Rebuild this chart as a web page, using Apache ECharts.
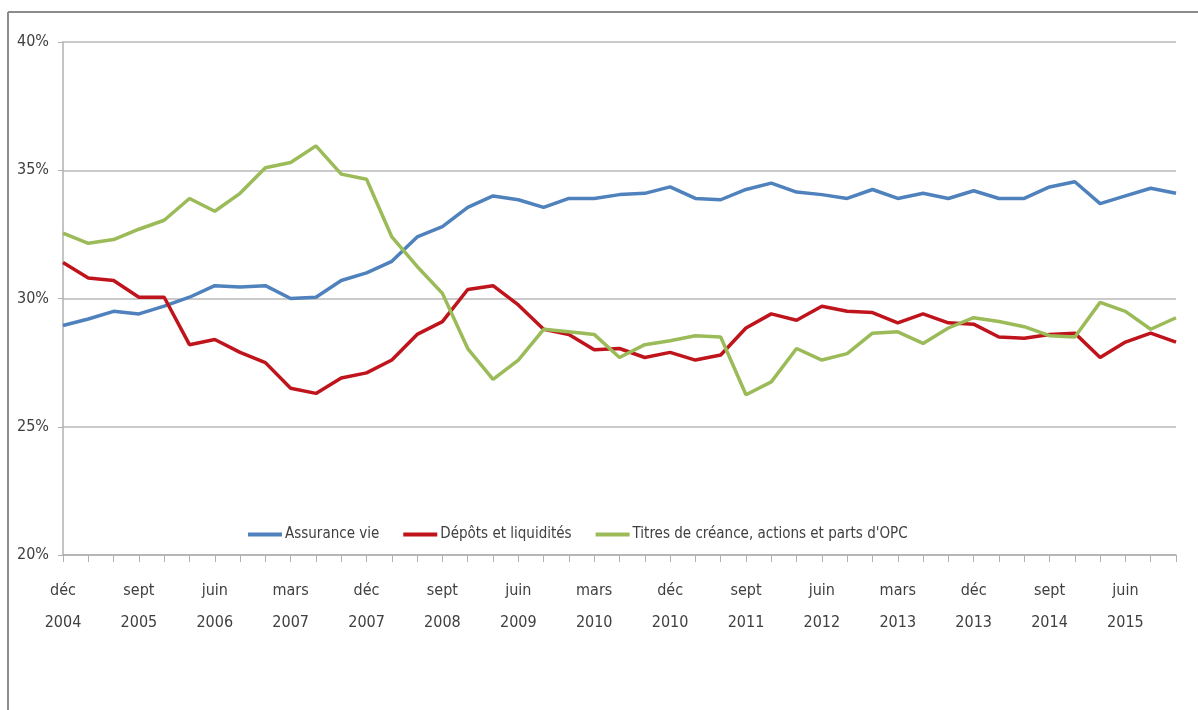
<!DOCTYPE html>
<html>
<head>
<meta charset="utf-8">
<script src="https://cdn.jsdelivr.net/npm/echarts@6/dist/echarts.min.js"></script>
<style>
  html, body { margin: 0; padding: 0; background: #fff; }
  #chart { width: 1198px; height: 710px; }
</style>
</head>
<body>
<div id="chart"></div>
<script>
// trimestres, de déc 2004 à déc 2015
const months = ['déc', 'mars', 'juin', 'sept']
const quarters = []
for (let i = 0; i < 45; i++) {
  const m = months[i % 4]
  const y = 2004 + Math.floor((i + 3) / 4)
  quarters.push(m + '\n' + y)
}

const assuranceVie = [
  28.95, 29.2, 29.5, 29.4, 29.7, 30.05, 30.5, 30.45, 30.5, 30.0,
  30.05, 30.7, 31.0, 31.45, 32.4, 32.8, 33.55, 34.0, 33.85, 33.55,
  33.9, 33.9, 34.05, 34.1, 34.35, 33.9, 33.85, 34.25, 34.5, 34.15,
  34.05, 33.9, 34.25, 33.9, 34.1, 33.9, 34.2, 33.9, 33.9, 34.35,
  34.55, 33.7, 34.0, 34.3, 34.1
]
const depots = [
  31.4, 30.8, 30.7, 30.05, 30.05, 28.2, 28.4, 27.9, 27.5, 26.5,
  26.3, 26.9, 27.1, 27.6, 28.6, 29.1, 30.35, 30.5, 29.75, 28.8,
  28.6, 28.0, 28.05, 27.7, 27.9, 27.6, 27.8, 28.85, 29.4, 29.15,
  29.7, 29.5, 29.45, 29.05, 29.4, 29.05, 29.0, 28.5, 28.45, 28.6,
  28.65, 27.7, 28.3, 28.65, 28.3
]
const titres = [
  32.55, 32.15, 32.3, 32.7, 33.05, 33.9, 33.4, 34.1, 35.1, 35.3,
  35.95, 34.85, 34.65, 32.4, 31.25, 30.2, 28.05, 26.85, 27.6, 28.8,
  28.7, 28.6, 27.7, 28.2, 28.35, 28.55, 28.5, 26.25, 26.75, 28.05,
  27.6, 27.85, 28.65, 28.7, 28.25, 28.85, 29.25, 29.1, 28.9, 28.55,
  28.5, 29.85, 29.5, 28.8, 29.25
]

const font = "'Liberation Sans Narrow', 'DejaVu Sans Condensed', sans-serif"
const chart = echarts.init(document.getElementById('chart'))
const option = {
  animation: false,
  backgroundColor: '#fff',
  graphic: [
    { type: 'line', shape: { x1: 8, y1: 12, x2: 1198, y2: 12 }, style: { stroke: '#8c8c8c', lineWidth: 2 } },
    { type: 'line', shape: { x1: 8, y1: 12, x2: 8, y2: 710 }, style: { stroke: '#8c8c8c', lineWidth: 2 } }
  ],
  grid: { left: 63, right: 22, top: 42, bottom: 155 },
  legend: {
    data: ['Assurance vie', 'Dépôts et liquidités', "Titres de créance, actions et parts d'OPC"],
    left: 243,
    top: 522,
    icon: 'rect',
    itemWidth: 34,
    itemHeight: 4,
    itemGap: 24,
    textStyle: { color: '#404040', fontSize: 15, fontFamily: font, padding: [0, 0, 0, -2] }
  },
  xAxis: {
    type: 'category',
    data: quarters,
    boundaryGap: false,
    axisLine: { lineStyle: { color: '#b0b0b0', width: 1.5 } },
    axisTick: { show: true, interval: 0, length: 7, lineStyle: { color: '#b0b0b0' } },
    axisLabel: {
      interval: 2,
      margin: 20,
      color: '#404040',
      fontSize: 16,
      lineHeight: 32,
      fontFamily: font
    },
    splitLine: { show: false }
  },
  yAxis: {
    type: 'value',
    min: 20,
    max: 40,
    interval: 5,
    axisLine: { show: true, lineStyle: { color: '#b0b0b0', width: 1.5 } },
    axisTick: { show: true, length: 5, lineStyle: { color: '#b0b0b0' } },
    axisLabel: {
      formatter: '{value}%',
      margin: 14,
      color: '#404040',
      fontSize: 16,
      fontFamily: font
    },
    splitLine: { lineStyle: { color: '#b8b8b8', width: 1.5 } }
  },
  series: [
    {
      name: 'Assurance vie',
      type: 'line',
      data: assuranceVie,
      symbol: 'none',
      itemStyle: { color: '#4F81BD' },
      lineStyle: { color: '#4F81BD', width: 3.5 }
    },
    {
      name: 'Dépôts et liquidités',
      type: 'line',
      data: depots,
      symbol: 'none',
      itemStyle: { color: '#C0141C' },
      lineStyle: { color: '#C0141C', width: 3.5 }
    },
    {
      name: "Titres de créance, actions et parts d'OPC",
      type: 'line',
      data: titres,
      symbol: 'none',
      itemStyle: { color: '#9BBB59' },
      lineStyle: { color: '#9BBB59', width: 3.5 }
    }
  ]
}
chart.setOption(option)
</script>
</body>
</html>
